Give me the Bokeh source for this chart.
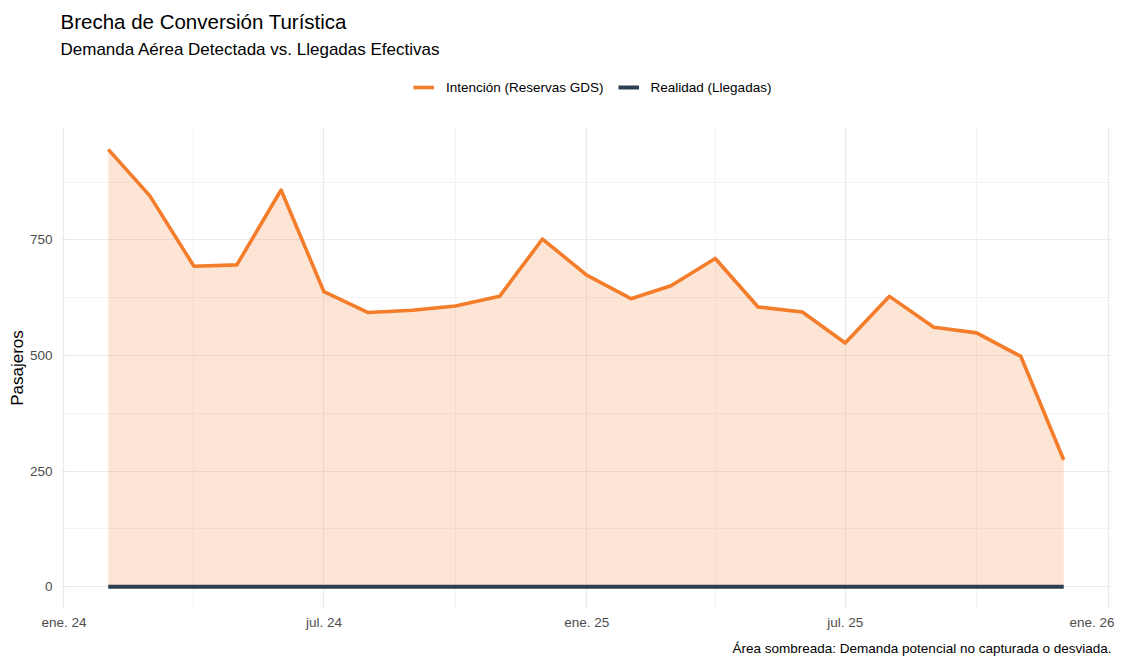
import pandas as pd
from bokeh.plotting import figure
from bokeh.layouts import column
from bokeh.models import (Range1d, FixedTicker, CustomJSTickFormatter, Legend,
                          LegendItem, Title, ColumnDataSource)
from bokeh.embed import file_html
from bokeh.resources import INLINE

# ---------------- data ----------------
meses = ["2024-02-01", "2024-03-01", "2024-04-01", "2024-05-01", "2024-06-01",
         "2024-07-01", "2024-08-01", "2024-09-01", "2024-10-01", "2024-11-01",
         "2024-12-01", "2025-01-01", "2025-02-01", "2025-03-01", "2025-04-01",
         "2025-05-01", "2025-06-01", "2025-07-01", "2025-08-01", "2025-09-01",
         "2025-10-01", "2025-11-01", "2025-12-01"]
intencion = [946, 846, 693, 696, 858, 638, 593, 598, 607, 628, 752, 674,
             623, 651, 710, 605, 594, 527, 628, 561, 549, 498, 274]
realidad = [0, 0, 0, 0, 0, 0, 0, 0, 0, 0, 0, 0,
            0, 0, 0, 0, 0, 0, 0, 0, 0, 0, 0]

tick_fechas = ["2024-01-01", "2024-07-01", "2025-01-01", "2025-07-01", "2026-01-01"]
tick_etiquetas = ["ene. 24", "jul. 24", "ene. 25", "jul. 25", "ene. 26"]
minor_fechas = ["2024-04-01", "2024-10-01", "2025-04-01", "2025-10-01"]
y_ticks = [0, 250, 500, 750]
y_minor = [125, 375, 625, 875]

titulo = "Brecha de Conversión Turística"
subtitulo = "Demanda Aérea Detectada vs. Llegadas Efectivas"
nota = "Área sombreada: Demanda potencial no capturada o desviada."
serie_int = "Intención (Reservas GDS)"
serie_real = "Realidad (Llegadas)"

NARANJA = "#F47D2B"
OSCURO = "#2C3E50"
FONT = "Liberation Sans"
W = 1114


def ms(d):
    return pd.Timestamp(d).value / 1e6


x = [ms(d) for d in meses]
src = ColumnDataSource(dict(x=x, intencion=intencion, realidad=realidad))

x0, x1 = min(x), max(x)
xpad = 0.05 * (x1 - x0)
ylo, yhi = min(realidad + intencion), max(realidad + intencion)
ypad = 0.05 * (yhi - ylo)

# ---------------- header (title, subtitle, legend) ----------------
head = figure(width=W, height=127, output_backend="svg", toolbar_location=None,
              x_axis_location=None, y_axis_location=None,
              x_range=Range1d(0, 1), y_range=Range1d(0, 1),
              min_border_left=60, min_border_right=3,
              min_border_top=60, min_border_bottom=0)
head.outline_line_color = None
head.grid.visible = False
head.background_fill_color = "white"
head.border_fill_color = "white"

# legend-only renderers (no drawable data: a single NaN point)
vacio = ColumnDataSource(dict(x=[float("nan")], y=[float("nan")]))
h_int = head.line(x="x", y="y", source=vacio, line_color=NARANJA, line_width=3.6)
h_real = head.line(x="x", y="y", source=vacio, line_color=OSCURO, line_width=4)

legend = Legend(items=[LegendItem(label=serie_int, renderers=[h_int]),
                       LegendItem(label=serie_real, renderers=[h_real])],
                orientation="horizontal", location=(353, 30),
                label_text_font=FONT, label_text_font_size="13.5px",
                label_text_color="black", glyph_width=21, glyph_height=20,
                label_standoff=12, spacing=14, padding=0, margin=0,
                border_line_color=None, background_fill_alpha=0)
head.add_layout(legend, "center")

head.add_layout(Title(text=subtitulo, align="left", text_font=FONT,
                      text_font_size="17px", text_font_style="normal",
                      text_color="black", standoff=4), "above")
head.add_layout(Title(text=titulo, align="left", text_font=FONT,
                      text_font_size="20.5px", text_font_style="normal",
                      text_color="black", standoff=5), "above")

# ---------------- main chart ----------------
p = figure(width=W, height=534, x_axis_type="datetime",
           x_range=Range1d(x0 - xpad, x1 + xpad),
           y_range=Range1d(ylo - ypad, yhi + ypad),
           output_backend="svg", toolbar_location=None,
           min_border_left=60, min_border_right=3,
           min_border_top=0, min_border_bottom=53)
p.outline_line_color = None
p.background_fill_color = "white"
p.border_fill_color = "white"

for g in (p.xgrid, p.ygrid):
    g.grid_line_color = "#EBEBEB"
    g.grid_line_width = 1.2
    g.minor_grid_line_color = "#EBEBEB"
    g.minor_grid_line_width = 0.6

p.xaxis.ticker = FixedTicker(ticks=[ms(d) for d in tick_fechas],
                             minor_ticks=[ms(d) for d in minor_fechas])
p.xaxis.formatter = CustomJSTickFormatter(
    args=dict(tvals=[ms(d) for d in tick_fechas], tlabs=tick_etiquetas),
    code="""
    for (let i = 0; i < tvals.length; i++) {
        if (Math.abs(tvals[i] - tick) < 1000) return tlabs[i];
    }
    return "";
    """)
p.yaxis.ticker = FixedTicker(ticks=y_ticks, minor_ticks=y_minor)

for ax in (p.xaxis, p.yaxis):
    ax.axis_line_color = None
    ax.major_tick_line_color = None
    ax.minor_tick_line_color = None
    ax.major_tick_out = 0
    ax.major_tick_in = 0
    ax.minor_tick_out = 0
    ax.minor_tick_in = 0
    ax.major_label_text_color = "#4D4D4D"
    ax.major_label_text_font = FONT
    ax.major_label_text_font_size = "13.5px"

p.xaxis.major_label_standoff = 6
p.yaxis.major_label_standoff = 8
p.yaxis.axis_label = "Pasajeros"
p.yaxis.axis_label_text_font = FONT
p.yaxis.axis_label_text_font_size = "17px"
p.yaxis.axis_label_text_font_style = "normal"
p.yaxis.axis_label_text_color = "black"
p.yaxis.axis_label_standoff = 0

p.varea(x="x", y1="realidad", y2="intencion", source=src,
        fill_color=NARANJA, fill_alpha=0.2)
p.line(x="x", y="intencion", source=src, line_color=NARANJA,
       line_width=3.6, line_join="round")
p.line(x="x", y="realidad", source=src, line_color=OSCURO, line_width=4)

p.add_layout(Title(text=nota, align="right", text_font=FONT,
                   text_font_size="13.5px", text_font_style="normal",
                   text_color="black", standoff=12), "below")

layout = column(head, p, spacing=0)
open("out.html", "w").write(file_html(layout, INLINE))
